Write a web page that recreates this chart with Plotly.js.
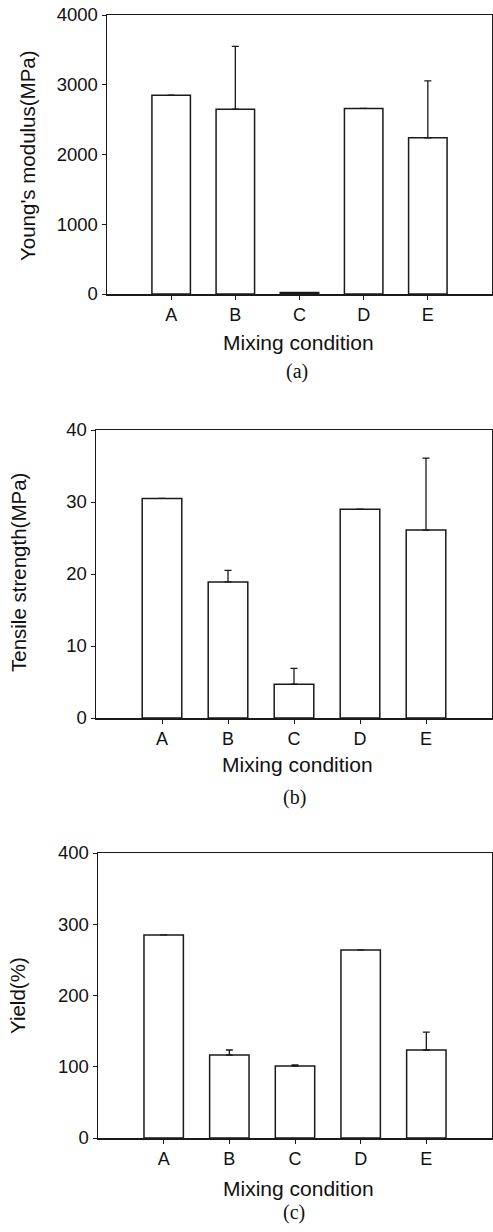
<!DOCTYPE html>
<html><head><meta charset="utf-8">
<script src="https://cdn.plot.ly/plotly-3.0.1.min.js"></script>
<style>html,body{margin:0;padding:0;background:#fff}#chart{width:493px;height:1232px}</style>
</head><body><div id="chart"></div>
<script>
const categories = ['A','B','C','D','E'];
const modulus = [2850, 2650, 20, 2660, 2240];
const modulusErr = [0, 900, 0, 0, 815];
const tensile = [30.5, 18.9, 4.7, 29.0, 26.1];
const tensileErr = [0, 1.6, 2.2, 0, 10.0];
const yieldPct = [285, 116.5, 101, 264, 123.5];
const yieldErr = [0, 7, 1.5, 0, 25];
const modulusTicks = [0, 1000, 2000, 3000, 4000];
const tensileTicks = [0, 10, 20, 30, 40];
const yieldTicks = [0, 100, 200, 300, 400];

const W = 493, H = 1232;
const LC = '#1a1a1a';
const fontSans = 'Liberation Sans, Arial, Helvetica, sans-serif';
const fontSerif = 'Liberation Serif, Times New Roman, serif';

function bar(y, err, xa, ya) {
  return {
    type: 'bar', x: categories, y: y, xaxis: xa, yaxis: ya, width: 0.6,
    marker: {color: '#fff', line: {color: LC, width: 1.5}},
    error_y: {type: 'data', array: err, arrayminus: err.map(() => 0), symmetric: false,
              color: LC, thickness: 1.3, width: 3.5},
    hoverinfo: 'skip', showlegend: false
  };
}
const data = [
  bar(modulus, modulusErr, 'x', 'y'),
  bar(tensile, tensileErr, 'x2', 'y2'),
  bar(yieldPct, yieldErr, 'x3', 'y3')
];

function xax(left) {
  return {domain: [left / W, 492 / W], range: [-1, 5], showline: true, mirror: true,
    linecolor: LC, linewidth: 1.5, ticks: 'outside', ticklen: 4, tickcolor: LC,
    tickfont: {family: fontSans, size: 18, color: '#111'}, showgrid: false, zeroline: false,
    fixedrange: true};
}
function yax(top, bottom, max, tv, xa) {
  return {domain: [1 - bottom / H, 1 - top / H], range: [0, max], showline: true, mirror: true,
    linecolor: LC, linewidth: 1.5, ticks: 'outside', ticklen: 4, tickcolor: LC,
    tickvals: tv, ticktext: tv.map(String), anchor: xa,
    tickfont: {family: fontSans, size: 18.5, color: '#111'}, showgrid: false, zeroline: false,
    fixedrange: true};
}

const ann = [];
function txt(t, x, y, size, fam, angle) {
  ann.push({text: t, x: x / W, y: 1 - y / H, xref: 'paper', yref: 'paper', showarrow: false,
    xanchor: 'center', yanchor: 'middle', textangle: angle || 0,
    font: {family: fam, size: size, color: '#111'}});
}
txt('Mixing condition', 298, 342, 21, fontSans);
txt('(a)', 297, 371, 20, fontSerif);
txt("Young's modulus(MPa)", 27, 156, 20.5, fontSans, -90);
txt('Mixing condition', 297, 764, 21, fontSans);
txt('(b)', 294, 797, 20, fontSerif);
txt('Tensile strength(MPa)', 18, 573, 20.5, fontSans, -90);
txt('Mixing condition', 298, 1188, 21, fontSans);
txt('(c)', 294, 1212, 20, fontSerif);
txt('Yield(%)', 17, 996, 20.5, fontSans, -90);

const layout = {
  width: W, height: H, margin: {l: 0, r: 0, t: 0, b: 0},
  paper_bgcolor: '#fff', plot_bgcolor: '#fff', showlegend: false, bargap: 0.4,
  xaxis: Object.assign(xax(107), {anchor: 'y'}),
  yaxis: yax(15, 294, 4000, modulusTicks, 'x'),
  xaxis2: Object.assign(xax(96), {anchor: 'y2'}),
  yaxis2: yax(430, 718, 40, tensileTicks, 'x2'),
  xaxis3: Object.assign(xax(98), {anchor: 'y3'}),
  yaxis3: yax(853, 1138, 400, yieldTicks, 'x3'),
  annotations: ann
};
Plotly.newPlot('chart', data, layout, {displayModeBar: false, staticPlot: true});
</script></body></html>
